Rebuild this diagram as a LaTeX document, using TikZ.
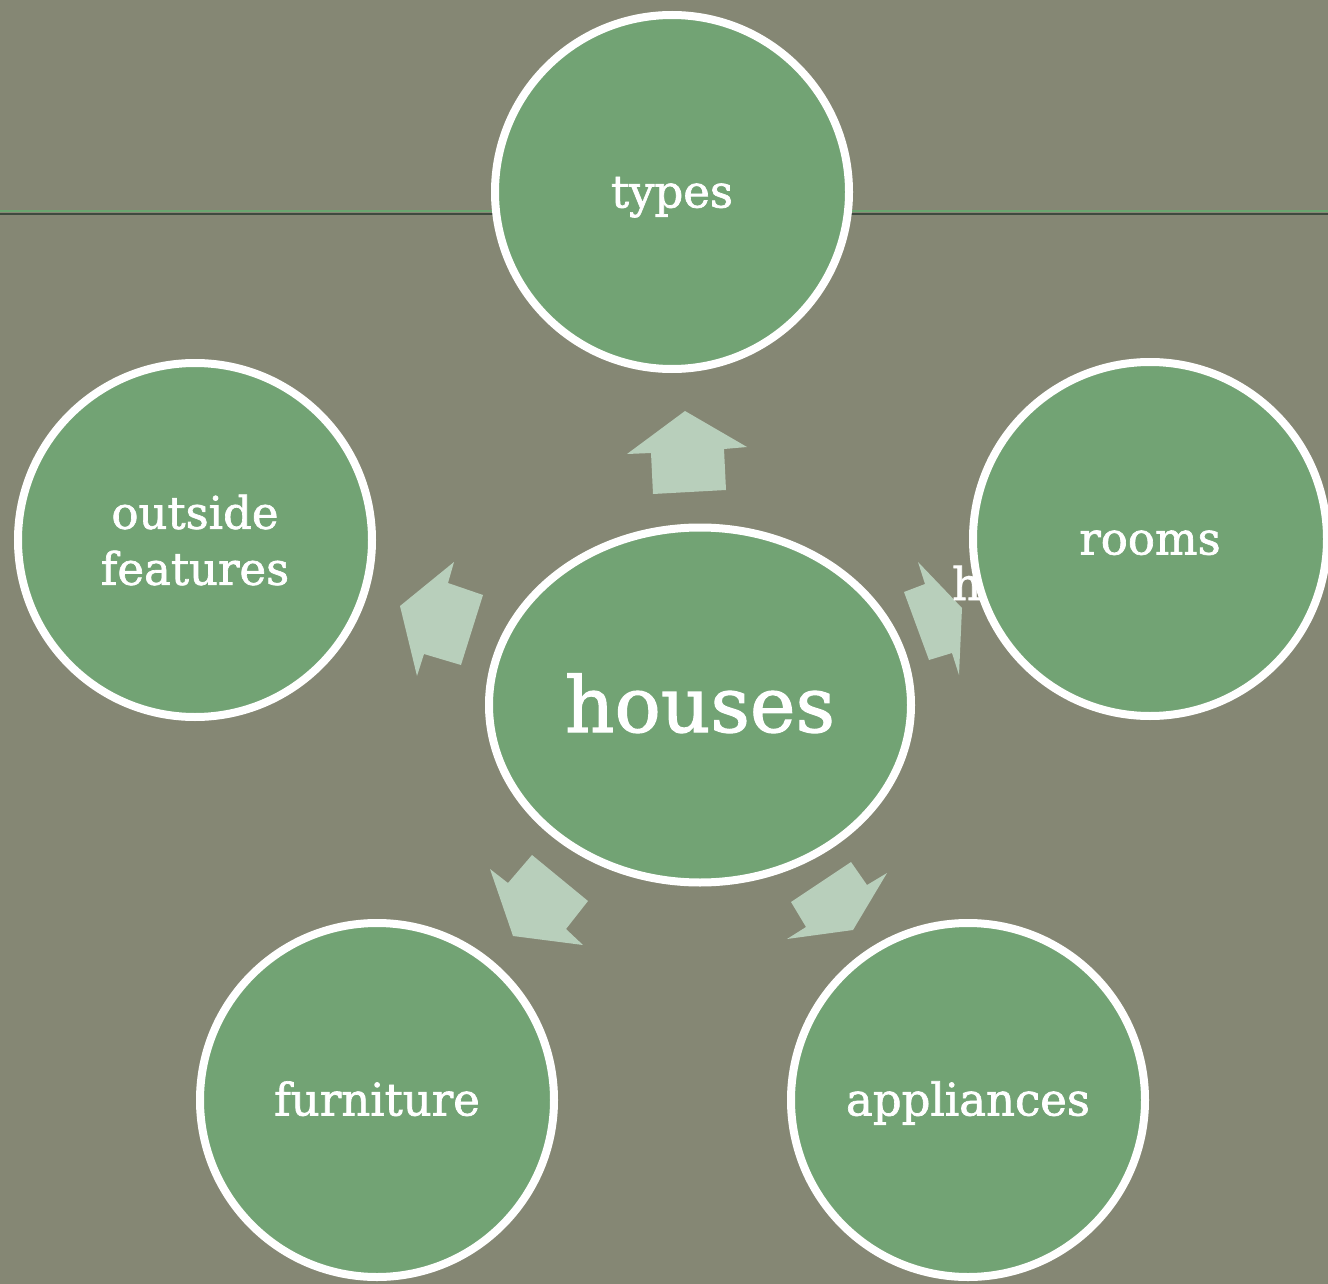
\documentclass[tikz,border=0pt]{standalone}
\usepackage{fontspec}
\setmainfont{DejaVu Serif}[BoldFont=DejaVu Serif, BoldFeatures={FakeBold=1.5}]
\usetikzlibrary{shapes.geometric}
\definecolor{bgc}{HTML}{858774}
\definecolor{cfill}{HTML}{72A374}
\definecolor{arrc}{HTML}{B8CFBB}
\definecolor{lgreen}{HTML}{6AA56F}
\definecolor{ldark}{HTML}{3F4A3F}
\tikzset{
  topic/.style={circle, draw=white, line width=8pt, fill=cfill, minimum size=354pt, inner sep=0pt,
    text=white, align=center, text height=31pt, text depth=0pt, font=\fontsize{45}{56}\selectfont\bfseries},
  hub/.style={ellipse, draw=white, line width=8pt, fill=cfill, minimum width=422pt, minimum height=355pt,
    inner sep=0pt, text=white, text height=54pt, text depth=0pt, font=\fontsize{77}{90}\selectfont\bfseries},
  blockarrow/.style={fill=arrc, draw=none}
}
\begin{document}
\begin{tikzpicture}[x=1pt,y=-1pt]
\fill[bgc] (0,0) rectangle (1328,1284);
\useasboundingbox (0,0) rectangle (1328,1284);
\coordinate (L0) at (0,211);
\coordinate (L1) at (1328,211);
\coordinate (D0) at (0,214);
\coordinate (D1) at (1328,214);
\draw[lgreen, line width=2pt] (L0) -- (L1);
\draw[ldark, line width=2.5pt] (D0) -- (D1);

\node[topic] (types) at (672,192) {types};
\node[topic, text height=, text depth=] (outside) at (195,540) {outside\\features};
\node[hub] (houses) at (700,705) {houses};

% block arrows
\fill[blockarrow] (685,411) -- (747,447) -- (724,449) -- (726,490) -- (653,494) -- (651,453) -- (627,454) -- cycle;
\fill[blockarrow] (454,562) -- (448,583) -- (483,595) -- (461,665) -- (424,654) -- (417,676) -- (400,606) -- cycle;
\fill[blockarrow] (918,562) -- (962,608) -- (959,675) -- (952,653) -- (929,660) -- (904,592) -- (925,584) -- cycle;
\fill[blockarrow] (532,855) -- (588,901) -- (566,929) -- (583,945) -- (513,936) -- (490,869) -- (508,883) -- cycle;
\fill[blockarrow] (851,862) -- (867,885) -- (887,873) -- (853,930) -- (787,939) -- (806,927) -- (791,902) -- cycle;

\node[anchor=base west, inner sep=0pt, text=white, font=\fontsize{45}{54}\selectfont\bfseries] (hfrag) at (952,600) {h};
\node[topic] (rooms) at (1150,539) {rooms};
\node[topic] (furniture) at (377,1100) {furniture};
\node[topic] (appliances) at (968,1100) {appliances};
\end{tikzpicture}
\end{document}
